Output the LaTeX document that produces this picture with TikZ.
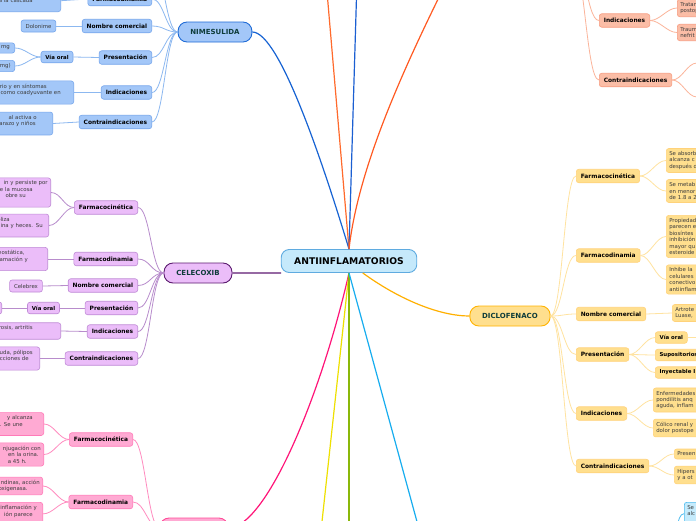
\documentclass[tikz,border=0pt]{standalone}
\usepackage{fontspec}
\setmainfont{DejaVu Sans}
\usetikzlibrary{positioning}

\definecolor{cenfill}{HTML}{C5E9FB}
\definecolor{cenedge}{HTML}{5FABE0}
\definecolor{drugtext}{HTML}{0E3C3A}
\definecolor{notetext}{HTML}{3C3C3C}
\definecolor{nimmain}{HTML}{1763D3}
\definecolor{nimfill}{HTML}{A3C7F8}
\definecolor{nimedge}{HTML}{1F6BD6}
\definecolor{nimline}{HTML}{76A6EC}
\definecolor{nimtwig}{HTML}{8CB8F0}
\definecolor{celmain}{HTML}{5E1A73}
\definecolor{celfill}{HTML}{EBBDF9}
\definecolor{celedge}{HTML}{5B1B6F}
\definecolor{celline}{HTML}{BF8AD6}
\definecolor{celtwig}{HTML}{B88CCC}
\definecolor{pkmain}{HTML}{FF1478}
\definecolor{pkfill}{HTML}{FFAAD3}
\definecolor{pkedge}{HTML}{FF4A98}
\definecolor{pkline}{HTML}{FF7AB8}
\definecolor{pktwig}{HTML}{FF8CC0}
\definecolor{dicmain}{HTML}{FFB000}
\definecolor{dicfill}{HTML}{FFDF8E}
\definecolor{dicedge}{HTML}{FFB300}
\definecolor{dicline}{HTML}{FFD27A}
\definecolor{dictwig}{HTML}{FFE3A0}
\definecolor{salmain}{HTML}{FF5A22}
\definecolor{salfill}{HTML}{FBBDA6}
\definecolor{salline}{HTML}{F79C80}
\definecolor{saltwig}{HTML}{FBB49A}
\definecolor{cyamain}{HTML}{17ADEF}
\definecolor{cyafill}{HTML}{C5EBFC}
\definecolor{cyaline}{HTML}{4EBCEF}
\definecolor{orgmain}{HTML}{FF6A2C}
\definecolor{bluemain}{HTML}{1B5FD2}
\definecolor{yelmain}{HTML}{EEE000}
\definecolor{grnmain}{HTML}{8AB80A}

\newcommand{\lgap}[1]{\rule{#1pt}{0pt}}

\tikzset{
  hub/.style={draw=cenedge, fill=cenfill, line width=0.9pt, rounded corners=8pt,
    font=\fontsize{9.2}{11}\selectfont\bfseries, minimum height=23pt, inner xsep=13pt},
  drug/.style 2 args={draw=#2, fill=#1, line width=0.9pt, rounded corners=9pt,
    font=\fontsize{7}{8}\selectfont\bfseries, text=drugtext, minimum height=20pt, inner xsep=12.3pt},
  topic/.style 2 args={draw=#2, fill=#1, line width=0.6pt, rounded corners=2.5pt,
    font=\fontsize{5.9}{7}\selectfont\bfseries, minimum height=13.5pt, inner xsep=4.5pt, inner ysep=0pt},
  route/.style 2 args={topic={#1}{#2}, font=\fontsize{5.4}{6.4}\selectfont\bfseries,
    minimum height=11.5pt, inner xsep=4.3pt},
  note/.style 2 args={draw=#2, fill=#1, line width=0.6pt, rounded corners=2.5pt,
    font=\fontsize{5.4}{6.4}\selectfont, text=notetext, inner xsep=4.5pt, minimum height=12pt},
  lnote/.style 2 args={note={#1}{#2}, text width=100pt, align=right, anchor=east,
    inner xsep=3pt, inner ysep=3pt, minimum height=0pt},
  rnote/.style 2 args={note={#1}{#2}, text width=70pt, align=left, anchor=west,
    inner xsep=3pt, inner ysep=3pt, minimum height=0pt},
  trunk/.style={line width=1.2pt},
  twig/.style={line width=0.8pt}
}

\begin{document}
\begin{tikzpicture}[x=1pt,y=-1pt]
\useasboundingbox (0,0) rectangle (696,520);
\fill[white] (0,0) rectangle (696,520);
\clip (0,0) rectangle (696,520);

% centre
\node[hub] (anti) at (349,261) {ANTIINFLAMATORIOS};
\coordinate (orgtop) at (326,-20);
\coordinate (bluetop) at (357,-20);
\coordinate (yelbot) at (320,540);
\coordinate (grnbot) at (349,540);
\coordinate (cyabot) at (422,540);

% NIMESULIDA
\node[drug={nimfill}{nimedge}] (nim) at (215,32) {NIMESULIDA};
\coordinate (nimfc) at (152,-35);
\node[topic={nimfill}{nimline}, anchor=east] (nimfd) at (152,-1) {Farmacodinamia};
\node[topic={nimfill}{nimline}, anchor=east] (nimnc) at (152,26) {Nombre comercial};
\node[topic={nimfill}{nimline}, anchor=east] (nimpr) at (152,57.5) {Presentación};
\node[topic={nimfill}{nimline}, anchor=east] (nimin) at (152,92.5) {Indicaciones};
\node[topic={nimfill}{nimline}, anchor=east] (nimci) at (152,122) {Contraindicaciones};
\node[lnote={nimfill}{nimline}, anchor=south east, minimum height=22pt] (nimfdt) at (61,12) {a la cascada\lgap{25}};
\node[note={nimfill}{nimline}] (nimdol) at (38.5,26) {Dolonime};
\node[route={nimfill}{nimline}] (nimvo) at (57,57) {Vía oral};
\node[lnote={nimfill}{nimline}] (nimmg1) at (15,48) {mg\lgap{2}};
\node[lnote={nimfill}{nimline}] (nimmg2) at (15,66) {mg)\lgap{1}};
\node[lnote={nimfill}{nimline}] (nimint) at (74,92.5) {rio y en síntomas\lgap{24}\\como coadyuvante en\lgap{10}\\\mbox{}};
\node[lnote={nimfill}{nimline}] (nimcit) at (53,123.5) {al activa o\lgap{13}\\arazo y niños\lgap{14}\\\mbox{}};

% CELECOXIB
\node[drug={celfill}{celedge}] (cel) at (198,273) {CELECOXIB};
\node[topic={celfill}{celline}, anchor=east] (celfc) at (138,207.5) {Farmacocinética};
\node[topic={celfill}{celline}, anchor=east] (celfd) at (138,259) {Farmacodinamia};
\node[topic={celfill}{celline}, anchor=east] (celnc) at (138,285.5) {Nombre comercial};
\node[topic={celfill}{celline}, anchor=east] (celpr) at (138,308) {Presentación};
\node[topic={celfill}{celline}, anchor=east] (celin) at (138,331.5) {Indicaciones};
\node[topic={celfill}{celline}, anchor=east] (celci) at (138,358.5) {Contraindicaciones};
\node[lnote={celfill}{celline}] (celfc1) at (51,192.5) {in y persiste por\\e la mucosa\lgap{15}\\obre su\lgap{22}\\\mbox{}};
\node[lnote={celfill}{celline}] (celfc2) at (49,225.5) {oliza\lgap{36}\\ina y heces. Su\lgap{3}\\\mbox{}};
\node[lnote={celfill}{celline}] (celfdt) at (48,259) {eostática,\lgap{20}\\amación y\lgap{17}\\\mbox{}};
\node[note={celfill}{celline}] (celcb) at (26,286) {Celebrex};
\node[route={celfill}{celline}] (celvo) at (43.5,308) {Vía oral};
\node[lnote={celfill}{celline}, minimum height=12pt] (celvot) at (2,308) {\mbox{}};
\node[lnote={celfill}{celline}] (celint) at (61,331) {rosis, artritis\lgap{25}\\\mbox{}};
\node[lnote={celfill}{celline}] (celcit) at (40,358.5) {uda, pólipos\lgap{4}\\cciones de\lgap{8}\\\mbox{}};

% pink branch
\node[drug={pkfill}{pkedge}, minimum width=68pt] (pk) at (194,528) {};
\node[topic={pkfill}{pkline}, anchor=east] (pkfc) at (133,439.5) {Farmacocinética};
\node[topic={pkfill}{pkline}, anchor=east] (pkfd) at (133,502) {Farmacodinamia};
\node[lnote={pkfill}{pkline}] (pkfc1) at (44,424) {y alcanza\lgap{8}\\. Se une\lgap{18}\\\mbox{}};
\node[lnote={pkfill}{pkline}] (pkfc2) at (44,454.5) {njugación con\\en la orina.\lgap{2}\\a 45 h.\lgap{14}};
\node[lnote={pkfill}{pkline}] (pkfd1) at (43,486) {ndinas, acción\\oxigenasa.\lgap{12}};
\node[lnote={pkfill}{pkline}, anchor=north east] (pkfd2) at (43,502) {inflamación y\lgap{3}\\ión parece\lgap{7}\\\mbox{}};

% DICLOFENACO
\node[drug={dicfill}{dicedge}] (dic) at (510,316) {DICLOFENACO};
\node[topic={dicfill}{dicline}, anchor=west] (dicfc) at (576,176) {Farmacocinética};
\node[topic={dicfill}{dicline}, anchor=west] (dicfd) at (576,255.5) {Farmacodinamia};
\node[topic={dicfill}{dicline}, anchor=west] (dicnc) at (576,314) {Nombre comercial};
\node[topic={dicfill}{dicline}, anchor=west] (dicpr) at (576,354.5) {Presentación};
\node[topic={dicfill}{dicline}, anchor=west] (dicin) at (576,413.5) {Indicaciones};
\node[topic={dicfill}{dicline}, anchor=west] (dicci) at (576,466) {Contraindicaciones};
\node[rnote={dicfill}{dicline}] (dicfc1) at (666,160.5) {Se absorb\\alcanza c\\después d};
\node[rnote={dicfill}{dicline}] (dicfc2) at (666,191) {Se metab\\en menor\\de 1.8 a 2};
\node[rnote={dicfill}{dicline}] (dicfd1) at (666,236.5) {Propiedad\\parecen e\\biosíntes\\inhibición\\mayor qu\\esteroide};
\node[rnote={dicfill}{dicline}] (dicfd2) at (666,279.5) {Inhibe la\\celulares\\conectivo\\antiinflam};
\node[rnote={dicfill}{dicline}] (dicnct) at (672,313) {Artrote\\Luase,};
\node[route={dicfill}{dicline}, anchor=west] (dicvo) at (655,337.5) {Vía oral};
\node[route={dicfill}{dicline}, anchor=west] (dicsu) at (655,355) {Supositorios};
\node[route={dicfill}{dicline}, anchor=west] (dicij) at (655,372.5) {Inyectable I};
\coordinate (dicvot) at (700,337.5);
\node[rnote={dicfill}{dicline}] (dicint1) at (653,400) {Enfermedades\\pondilitis anq\\aguda, inflam};
\node[rnote={dicfill}{dicline}] (dicint2) at (653,428) {Cólico renal y\\dolor postope};
\node[rnote={dicfill}{dicline}] (diccit1) at (674,454) {Presen};
\node[rnote={dicfill}{dicline}] (diccit2) at (674,475) {Hipers\\y a ot};

% salmon branch (parent above the page)
\coordinate (salw) at (450,-25);
\coordinate (sale) at (565,-60);
\node[topic={salfill}{salline}, anchor=west] (salin) at (599,20.5) {Indicaciones};
\node[topic={salfill}{salline}, anchor=west] (salci) at (599,80) {Contraindicaciones};
\node[rnote={salfill}{salline}] (salint1) at (677,8) {Tratam\\postop};
\node[rnote={salfill}{salline}] (salint2) at (677,32.5) {Traum\\nefrit};
\coordinate (salcit1) at (697,63);
\coordinate (salcit2) at (697,97);

% cyan leaf
\node[rnote={cyafill}{cyaline}, anchor=north west] (cyat) at (684,502) {Se\\alc\\\mbox{}};
\coordinate (cyap) at (668,540);

% links from the centre
\draw[trunk, nimmain] (anti.north) .. controls (325,170) and (280,32) .. (nim.east);
\draw[trunk, orgmain] (anti.north) -- (orgtop);
\draw[trunk, bluemain] (anti.north) -- (bluetop);
\draw[trunk, salmain] (anti.north) .. controls (358,170) and (400,75) .. (salw);
\draw[trunk, celmain] (anti.-170) -- (cel.east);
\draw[trunk, dicmain] (anti.-41) .. controls (400,300) and (440,316) .. (dic.west);
\draw[trunk, pkmain] (anti.south) .. controls (320,400) and (265,528) .. (pk.east);
\draw[trunk, yelmain] (anti.south) -- (yelbot);
\draw[trunk, grnmain] (anti.south) -- (grnbot);
\draw[trunk, cyamain] (anti.south) -- (cyabot);

% NIMESULIDA links
\draw[twig, nimtwig] (nim.west) .. controls +(-12,0) and +(12,0) .. (nimfc);
\draw[twig, nimtwig] (nim.west) .. controls +(-12,0) and +(12,0) .. (nimfd.east);
\draw[twig, nimtwig] (nim.west) .. controls +(-12,0) and +(12,0) .. (nimnc.east);
\draw[twig, nimtwig] (nim.west) .. controls +(-12,0) and +(12,0) .. (nimpr.east);
\draw[twig, nimtwig] (nim.west) .. controls +(-12,0) and +(12,0) .. (nimin.east);
\draw[twig, nimtwig] (nim.west) .. controls +(-12,0) and +(12,0) .. (nimci.east);
\draw[twig, nimtwig] (nimfd.west) -- (nimfdt.east);
\draw[twig, nimtwig] (nimnc.west) -- (nimdol.east);
\draw[twig, nimtwig] (nimpr.west) -- (nimvo.east);
\draw[twig, nimtwig] (nimvo.west) .. controls +(-10,0) and +(10,0) .. (nimmg1.east);
\draw[twig, nimtwig] (nimvo.west) .. controls +(-10,0) and +(10,0) .. (nimmg2.east);
\draw[twig, nimtwig] (nimin.west) -- (nimint.east);
\draw[twig, nimtwig] (nimci.west) -- (nimcit.east);

% CELECOXIB links
\draw[twig, celtwig] (cel.west) .. controls +(-12,0) and +(12,0) .. (celfc.east);
\draw[twig, celtwig] (cel.west) .. controls +(-12,0) and +(12,0) .. (celfd.east);
\draw[twig, celtwig] (cel.west) .. controls +(-12,0) and +(12,0) .. (celnc.east);
\draw[twig, celtwig] (cel.west) .. controls +(-12,0) and +(12,0) .. (celpr.east);
\draw[twig, celtwig] (cel.west) .. controls +(-12,0) and +(12,0) .. (celin.east);
\draw[twig, celtwig] (cel.west) .. controls +(-12,0) and +(12,0) .. (celci.east);
\draw[twig, celtwig] (celfc.west) .. controls +(-10,0) and +(10,0) .. (celfc1.east);
\draw[twig, celtwig] (celfc.west) .. controls +(-10,0) and +(10,0) .. (celfc2.east);
\draw[twig, celtwig] (celfd.west) -- (celfdt.east);
\draw[twig, celtwig] (celnc.west) -- (celcb.east);
\draw[twig, celtwig] (celpr.west) -- (celvo.east);
\draw[twig, celtwig] (celvo.west) -- (celvot.east);
\draw[twig, celtwig] (celin.west) -- (celint.east);
\draw[twig, celtwig] (celci.west) -- (celcit.east);

% pink links
\draw[twig, pktwig] (pk.west) .. controls +(-12,0) and +(12,0) .. (pkfc.east);
\draw[twig, pktwig] (pk.west) .. controls +(-12,0) and +(12,0) .. (pkfd.east);
\draw[twig, pktwig] (pkfc.west) .. controls +(-10,0) and +(10,0) .. (pkfc1.east);
\draw[twig, pktwig] (pkfc.west) .. controls +(-10,0) and +(10,0) .. (pkfc2.east);
\draw[twig, pktwig] (pkfd.west) .. controls +(-10,0) and +(10,0) .. (pkfd1.east);
\draw[twig, pktwig] (pkfd.west) .. controls +(-10,0) and +(10,0) .. (pkfd2.east);

% DICLOFENACO links
\draw[twig, dictwig] (dic.east) .. controls +(12,0) and +(-12,0) .. (dicfc.west);
\draw[twig, dictwig] (dic.east) .. controls +(12,0) and +(-12,0) .. (dicfd.west);
\draw[twig, dictwig] (dic.east) .. controls +(12,0) and +(-12,0) .. (dicnc.west);
\draw[twig, dictwig] (dic.east) .. controls +(12,0) and +(-12,0) .. (dicpr.west);
\draw[twig, dictwig] (dic.east) .. controls +(12,0) and +(-12,0) .. (dicin.west);
\draw[twig, dictwig] (dic.east) .. controls +(12,0) and +(-12,0) .. (dicci.west);
\draw[twig, dictwig] (dicfc.east) .. controls +(10,0) and +(-10,0) .. (dicfc1.west);
\draw[twig, dictwig] (dicfc.east) .. controls +(10,0) and +(-10,0) .. (dicfc2.west);
\draw[twig, dictwig] (dicfd.east) .. controls +(10,0) and +(-10,0) .. (dicfd1.west);
\draw[twig, dictwig] (dicfd.east) .. controls +(10,0) and +(-10,0) .. (dicfd2.west);
\draw[twig, dictwig] (dicnc.east) -- (dicnct.west);
\draw[twig, dictwig] (dicpr.east) .. controls +(10,0) and +(-10,0) .. (dicvo.west);
\draw[twig, dictwig] (dicpr.east) .. controls +(10,0) and +(-10,0) .. (dicsu.west);
\draw[twig, dictwig] (dicpr.east) .. controls +(10,0) and +(-10,0) .. (dicij.west);
\draw[twig, dictwig] (dicvo.east) -- (dicvot);
\draw[twig, dictwig] (dicin.east) .. controls +(10,0) and +(-10,0) .. (dicint1.west);
\draw[twig, dictwig] (dicin.east) .. controls +(10,0) and +(-10,0) .. (dicint2.west);
\draw[twig, dictwig] (dicci.east) .. controls +(10,0) and +(-10,0) .. (diccit1.west);
\draw[twig, dictwig] (dicci.east) .. controls +(10,0) and +(-10,0) .. (diccit2.west);

% salmon links
\draw[twig, saltwig] (sale) .. controls +(20,0) and +(-14,0) .. (salin.west);
\draw[twig, saltwig] (sale) .. controls +(20,0) and +(-14,0) .. (salci.west);
\draw[twig, saltwig] (salin.east) .. controls +(10,0) and +(-10,0) .. (salint1.west);
\draw[twig, saltwig] (salin.east) .. controls +(10,0) and +(-10,0) .. (salint2.west);
\draw[twig, saltwig] (salci.east) .. controls +(10,0) and +(-10,0) .. (salcit1);
\draw[twig, saltwig] (salci.east) .. controls +(10,0) and +(-10,0) .. (salcit2);

% cyan link
\draw[twig, cyaline] (cyap) .. controls +(10,0) and +(-8,0) .. (cyat.west);
\end{tikzpicture}
\end{document}
